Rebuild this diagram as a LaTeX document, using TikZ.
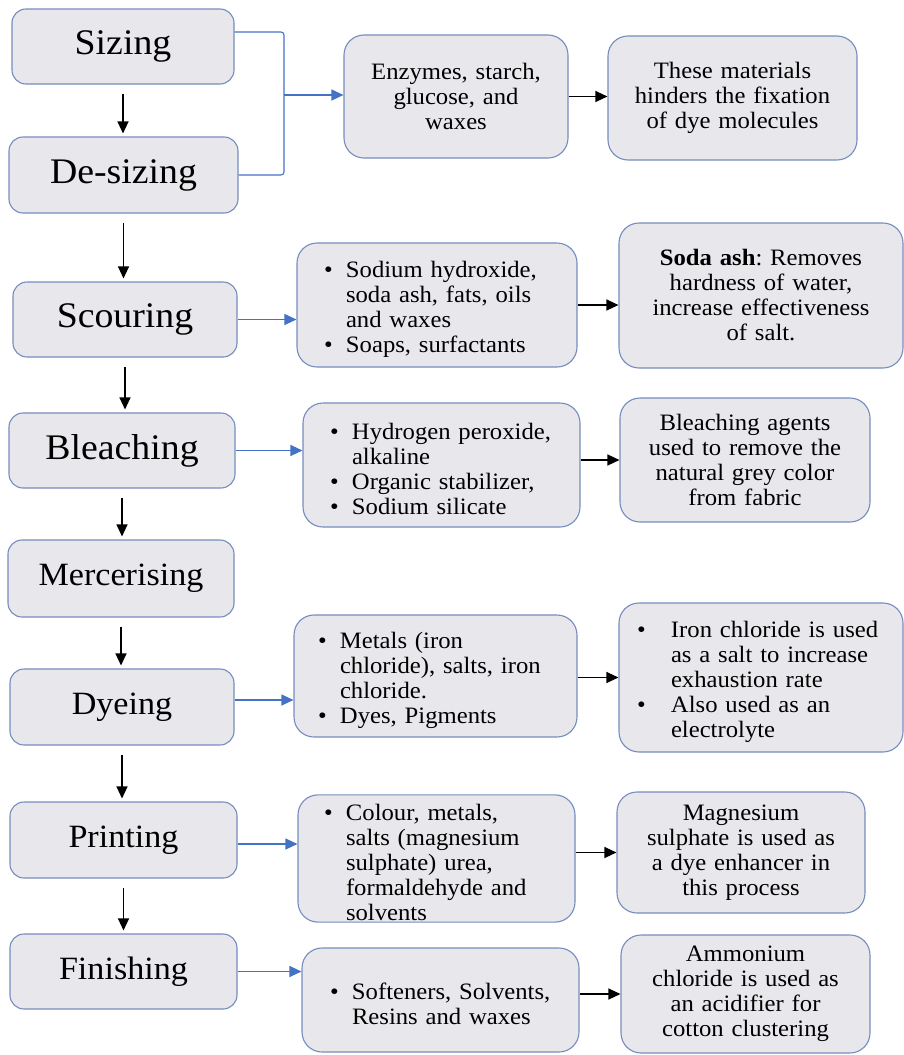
\documentclass[tikz,border=0pt]{standalone}
\usepackage{fontspec}
\setmainfont{Liberation Serif}[FakeStretch=1.05]
\usetikzlibrary{positioning,arrows.meta}
\frenchspacing

\definecolor{boxfill}{RGB}{232,232,236}
\definecolor{boxline}{RGB}{118,140,190}
\definecolor{linkblue}{RGB}{68,114,196}

\newcommand{\bitem}[2][22pt]{\par\hangindent=#1\hangafter=1\noindent\makebox[#1][l]{\textbullet}#2\par}

\begin{document}
\begin{tikzpicture}[x=1pt,y=-1pt,
    stage/.style={draw=boxline,fill=boxfill,line width=1.1pt,rounded corners=14pt,
      minimum height=75pt,font=\fontsize{36}{40}\selectfont},
    lowstage/.style={stage,font=\fontsize{32.5}{36}\selectfont},
    agent/.style={draw=boxline,fill=boxfill,line width=1.1pt,rounded corners=20pt,
      inner sep=1pt,font=\fontsize{23.5}{25}\selectfont},
    flow/.style={line width=1.2pt,->,shorten <=9pt,shorten >=3pt},
    feed/.style={line width=1.1pt,linkblue,->},
    >={Triangle[length=12pt,width=11pt]}]

        \useasboundingbox (0,0) rectangle (904,1055);

        % process steps
        \draw (123,46.5) node[stage,minimum width=222pt] (sizing) {Sizing};

        \draw (123.5,175) node[stage,minimum width=229pt,minimum height=76pt] (desizing) {De-sizing};

        \draw (125,319.5) node[stage,minimum width=224pt] (scouring) {Scouring};

        \draw (122,450.5) node[stage,minimum width=226pt] (bleaching) {Bleaching};

        \draw (121,578.5) node[lowstage,minimum width=226pt,minimum height=77pt] (mercer) {Mercerising};

        \draw (122,707) node[lowstage,minimum width=224pt,minimum height=76pt] (dyeing) {Dyeing};

        \draw (123.5,840) node[lowstage,minimum width=227pt,minimum height=76pt] (printing) {Printing};

        \draw (123.5,971.5) node[lowstage,minimum width=227pt] (finishing) {Finishing};

        % chemicals used
        \draw (456,96.5) node[agent,minimum width=224pt,minimum height=123pt,
        text width=210pt,align=center] (enzymes) {Enzymes, starch,\\ glucose, and\\ waxes};

        \draw (437,305) node[agent,minimum width=280pt,minimum height=124pt,
        text width=226pt,align=left] (scourmid) {\bitem{Sodium hydroxide,\newline soda ash, fats, oils\newline and waxes}\bitem{Soaps, surfactants}};

        \draw (441.5,465) node[agent,minimum width=277pt,minimum height=124pt,
        text width=223pt,align=left] (bleachmid) {\bitem{Hydrogen peroxide,\newline alkaline}\bitem{Organic stabilizer,}\bitem{Sodium silicate}};

        \draw (435.5,676) node[agent,minimum width=283pt,minimum height=122pt,
        text width=235pt,align=left] (dyemid) {\bitem{Metals (iron\newline chloride), salts, iron\newline chloride.}\bitem{Dyes, Pigments}};

        \draw (436.5,858.5) node[agent,minimum width=277pt,minimum height=123pt,
        text width=225pt,align=left] (printmid) {\bitem{Colour, metals,\newline salts (magnesium\newline sulphate) urea,\newline formaldehyde and\newline solvents}};

        \draw (440.5,1000) node[agent,minimum width=277pt,minimum height=104pt,
        text width=221pt,align=left] (finishmid) {\bitem{Softeners, Solvents,\newline Resins and waxes}};

        % what they do
        \draw (732.5,98) node[agent,minimum width=249pt,minimum height=124pt,
        text width=240pt,align=center] (materials) {These materials\\ hinders the fixation\\ of dye molecules};

        \draw (761,295.5) node[agent,minimum width=284pt,minimum height=145pt,
        text width=270pt,align=center] (sodaash) {\textbf{Soda ash}: Removes\\ hardness of water,\\ increase effectiveness\\ of salt.};

        \draw (745,460) node[agent,minimum width=250pt,minimum height=124pt,
        text width=240pt,align=center] (bleachright) {Bleaching agents\\ used to remove the\\ natural grey color\\ from fabric};

        \draw (761,677.5) node[agent,minimum width=284pt,minimum height=149pt,
        text width=248pt,align=left] (dyeright) {\bitem[34pt]{Iron chloride is used\newline as a salt to increase\newline exhaustion rate}\bitem[34pt]{Also used as an\newline electrolyte}};

        \draw (741,852.5) node[agent,minimum width=248pt,minimum height=121pt,
        text width=240pt,align=center] (printright) {Magnesium\\ sulphate is used as\\ a dye enhancer in\\ this process};

        \draw (745.5,994) node[agent,minimum width=249pt,minimum height=118pt,
        text width=240pt,align=center] (finishright) {Ammonium\\ chloride is used as\\ an acidifier for\\ cotton clustering};

        % bracket joining sizing and de-sizing
        \coordinate (brk) at (284,95);

        \draw[line width=1.1pt,linkblue,rounded corners=3pt] ([yshift=14.5pt]sizing.east) -| (brk) |- (desizing.east);

        \draw[feed] (brk) -- (brk -| enzymes.west);

        % main flow
        \draw[flow] (sizing.south) -- (sizing.south |- desizing.north);

        \draw[flow] (desizing.south) -- (desizing.south |- scouring.north);

        \draw[flow] (scouring.south) -- (scouring.south |- bleaching.north);

        \draw[flow] (bleaching.south) -- (bleaching.south |- mercer.north);

        \draw[flow] (mercer.south) -- (mercer.south |- dyeing.north);

        \draw[flow] (dyeing.south) -- (dyeing.south |- printing.north);

        \draw[flow] (printing.south) -- (printing.south |- finishing.north);

        % steps to chemicals
        \draw[feed] (scouring.east) -- (scouring.east -| scourmid.west);

        \draw[feed] (bleaching.east) -- (bleaching.east -| bleachmid.west);

        \draw[feed] ([yshift=7pt]dyeing.east) -- ([yshift=7pt]dyeing.east -| dyemid.west);

        \draw[feed] ([yshift=-4pt]printing.east) -- ([yshift=-4pt]printing.east -| printmid.west);

        \draw[feed] (finishing.east) -- (finishing.east -| finishmid.west);

        % chemicals to effects
        \draw[line width=1.2pt,->] (enzymes.east) -- (enzymes.east -| materials.west);

        \draw[line width=1.2pt,->] (scourmid.east) -- (scourmid.east -| sodaash.west);

        \draw[line width=1.2pt,->] (bleachright.west -| bleachmid.east) -- (bleachright.west);

        \draw[line width=1.2pt,->] (dyeright.west -| dyemid.east) -- (dyeright.west);

        \draw[line width=1.2pt,->] (printright.west -| printmid.east) -- (printright.west);

        \draw[line width=1.2pt,->] (finishright.west -| finishmid.east) -- (finishright.west);
\end{tikzpicture}
\end{document}
